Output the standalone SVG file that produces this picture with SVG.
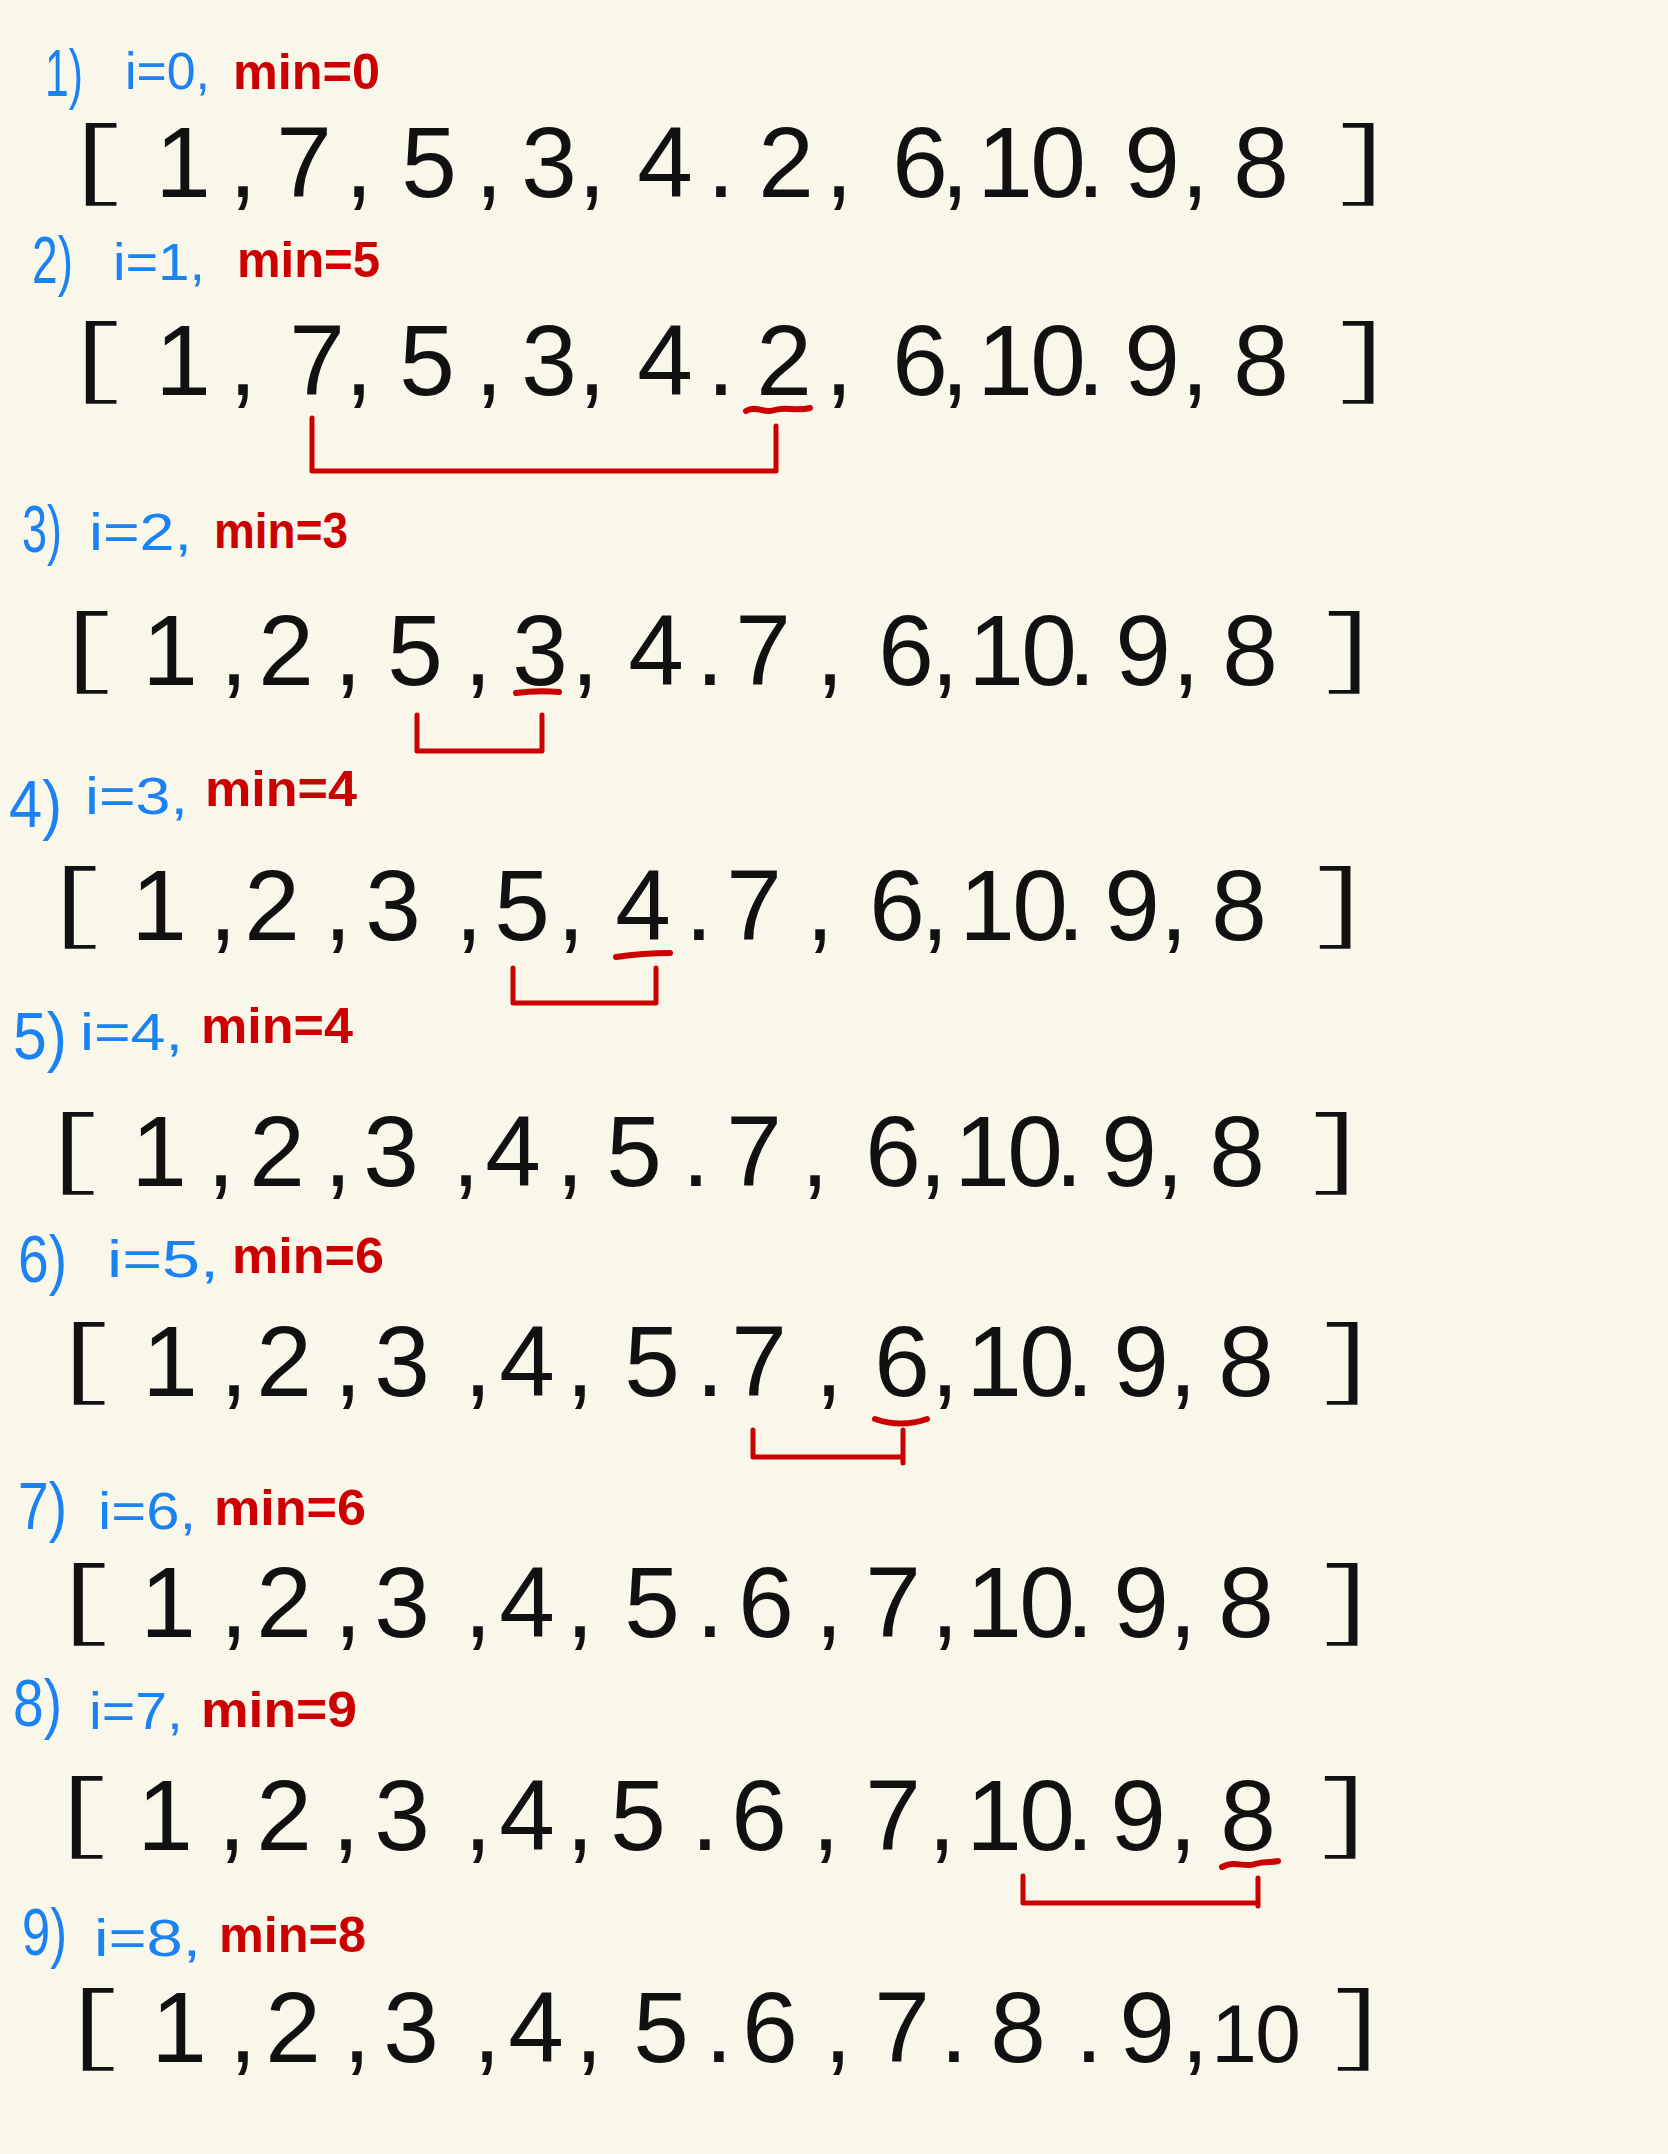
<svg xmlns="http://www.w3.org/2000/svg" width="1668" height="2154" viewBox="0 0 1668 2154">
<style>
.d{font-family:"Liberation Sans",Arial,sans-serif;font-size:100px;fill:#111;text-anchor:middle}
.k{font-family:"DejaVu Sans","Liberation Sans",sans-serif;font-size:92px;font-weight:300;fill:#111}
.n{font-family:"Liberation Sans",Arial,sans-serif;font-size:66px;fill:#1a82f2}
.i{font-family:"Liberation Sans",Arial,sans-serif;font-size:52px;fill:#1a82f2}
.m{font-family:"Liberation Sans",Arial,sans-serif;font-size:50px;font-weight:bold;fill:#cc0000}
.c{fill:none;stroke:#cc0000;stroke-width:5;stroke-linecap:round;stroke-linejoin:round}
.u{fill:none;stroke:#cc0000;stroke-width:6;stroke-linecap:round}
</style>
<rect width="1668" height="2154" fill="#f9f6ea"/>

<g id="step1">
<text class="n" x="45" y="96" textLength="38" lengthAdjust="spacingAndGlyphs">1)</text>
<text class="i" x="125" y="89" textLength="85" lengthAdjust="spacingAndGlyphs">i=0,</text>
<text class="m" x="233" y="89" textLength="147" lengthAdjust="spacingAndGlyphs">min=0</text>
<text class="k" transform="translate(65,194) scale(2,1)">[</text>
<text class="d" x="183 243 304 359 429 489 549 592 665 721 786 839 920 955 1005 1058 1091 1152 1195 1261" y="197">1,7,5,3,4.2,6,10.9,8</text>
<text class="k" transform="translate(1322,194) scale(2,1)">]</text>
</g>

<g id="step2">
<text class="n" x="32" y="283" textLength="41" lengthAdjust="spacingAndGlyphs">2)</text>
<text class="i" x="113" y="280" textLength="92" lengthAdjust="spacingAndGlyphs">i=1,</text>
<text class="m" x="237" y="277" textLength="143" lengthAdjust="spacingAndGlyphs">min=5</text>
<text class="k" transform="translate(65,392) scale(2,1)">[</text>
<text class="d" x="183 243 317 359 427 489 549 592 665 721 784 839 920 955 1005 1058 1091 1152 1195 1261" y="395">1,7,5,3,4.2,6,10.9,8</text>
<text class="k" transform="translate(1322,392) scale(2,1)">]</text>
</g>

<g id="step3">
<text class="n" x="22" y="552" textLength="40" lengthAdjust="spacingAndGlyphs">3)</text>
<text class="i" x="89" y="550" textLength="103" lengthAdjust="spacingAndGlyphs">i=2,</text>
<text class="m" x="214" y="548" textLength="134" lengthAdjust="spacingAndGlyphs">min=3</text>
<text class="k" transform="translate(56,682) scale(2,1)">[</text>
<text class="d" x="170 234 286 348 415 478 540 585 656 710 763 830 906 945 996 1049 1082 1143 1186 1250" y="685">1,2,5,3,4.7,6,10.9,8</text>
<text class="k" transform="translate(1308,682) scale(2,1)">]</text>
</g>

<g id="step4">
<text class="n" x="9" y="827" textLength="53" lengthAdjust="spacingAndGlyphs">4)</text>
<text class="i" x="85" y="814" textLength="103" lengthAdjust="spacingAndGlyphs">i=3,</text>
<text class="m" x="205" y="806" textLength="152" lengthAdjust="spacingAndGlyphs">min=4</text>
<text class="k" transform="translate(44,937) scale(2,1)">[</text>
<text class="d" x="159 223 272 338 393 469 522 571 643 699 754 820 897 935 987 1040 1071 1132 1174 1239" y="940">1,2,3,5,4.7,6,10.9,8</text>
<text class="k" transform="translate(1299,937) scale(2,1)">]</text>
</g>

<g id="step5">
<text class="n" x="13" y="1059" textLength="54" lengthAdjust="spacingAndGlyphs">5)</text>
<text class="i" x="80" y="1050" textLength="103" lengthAdjust="spacingAndGlyphs">i=4,</text>
<text class="m" x="201" y="1043" textLength="152" lengthAdjust="spacingAndGlyphs">min=4</text>
<text class="k" transform="translate(42,1183) scale(2,1)">[</text>
<text class="d" x="159 221 277 338 391 466 513 570 634 696 754 815 893 933 982 1035 1069 1129 1170 1237" y="1186">1,2,3,4,5.7,6,10.9,8</text>
<text class="k" transform="translate(1295,1183) scale(2,1)">]</text>
</g>

<g id="step6">
<text class="n" x="18" y="1282" textLength="49" lengthAdjust="spacingAndGlyphs">6)</text>
<text class="i" x="107" y="1277" textLength="112" lengthAdjust="spacingAndGlyphs">i=5,</text>
<text class="m" x="232" y="1273" textLength="152" lengthAdjust="spacingAndGlyphs">min=6</text>
<text class="k" transform="translate(53,1393) scale(2,1)">[</text>
<text class="d" x="170 234 284 348 402 478 527 580 652 710 759 829 902 945 994 1047 1080 1141 1183 1246" y="1396">1,2,3,4,5.7,6,10.9,8</text>
<text class="k" transform="translate(1306,1393) scale(2,1)">]</text>
</g>

<g id="step7">
<text class="n" x="18" y="1529" textLength="49" lengthAdjust="spacingAndGlyphs">7)</text>
<text class="i" x="98" y="1529" textLength="98" lengthAdjust="spacingAndGlyphs">i=6,</text>
<text class="m" x="214" y="1525" textLength="152" lengthAdjust="spacingAndGlyphs">min=6</text>
<text class="k" transform="translate(53,1634) scale(2,1)">[</text>
<text class="d" x="168 234 284 348 402 478 527 580 652 710 766 829 893 945 994 1047 1080 1141 1183 1246" y="1637">1,2,3,4,5.6,7,10.9,8</text>
<text class="k" transform="translate(1306,1634) scale(2,1)">]</text>
</g>

<g id="step8">
<text class="n" x="13" y="1726" textLength="49" lengthAdjust="spacingAndGlyphs">8)</text>
<text class="i" x="89" y="1729" textLength="94" lengthAdjust="spacingAndGlyphs">i=7,</text>
<text class="m" x="201" y="1727" textLength="156" lengthAdjust="spacingAndGlyphs">min=9</text>
<text class="k" transform="translate(51,1847) scale(2,1)">[</text>
<text class="d" x="165 232 284 346 402 478 527 580 638 705 759 826 893 942 994 1047 1080 1138 1183 1248" y="1850">1,2,3,4,5.6,7,10.9,8</text>
<text class="k" transform="translate(1304,1847) scale(2,1)">]</text>
</g>

<g id="step9">
<text class="n" x="22" y="1955" textLength="45" lengthAdjust="spacingAndGlyphs">9)</text>
<text class="i" x="94" y="1956" textLength="107" lengthAdjust="spacingAndGlyphs">i=8,</text>
<text class="m" x="219" y="1952" textLength="147" lengthAdjust="spacingAndGlyphs">min=8</text>
<text class="k" transform="translate(62,2059) scale(2,1)">[</text>
<text class="d" x="179 243 293 357 411 487 536 589 661 719 770 838 902 954 1018 1089 1147 1195 1234 1278" y="2062">1,2,3,4,5.6,7.8.9,<tspan font-size="82">10</tspan></text>
<text class="k" transform="translate(1317,2059) scale(2,1)">]</text>
</g>

<g id="connectors">
<path class="c" d="M312 418 V471 H776 V426"/>
<path class="c" d="M417 715 V751 H542 V715"/>
<path class="c" d="M513 968 V1003 H656 V968"/>
<path class="c" d="M753 1430 V1457 H903 M903 1430 V1463"/>
<path class="c" d="M1023 1876 V1903 H1258 M1258 1878 V1906"/>
</g>

<g id="marks">
<path class="u" d="M746 411 C756 405 764 414 775 410 C786 406 795 412 810 408"/>
<path class="u" d="M516 693 Q537 690 559 692"/>
<path class="u" d="M616 957 Q643 953 670 953"/>
<path class="u" d="M875 1419 Q901 1428 927 1419"/>
<path class="u" d="M1222 1867 C1235 1860 1245 1868 1255 1864 C1265 1861 1270 1863 1278 1861"/>
</g>
</svg>
